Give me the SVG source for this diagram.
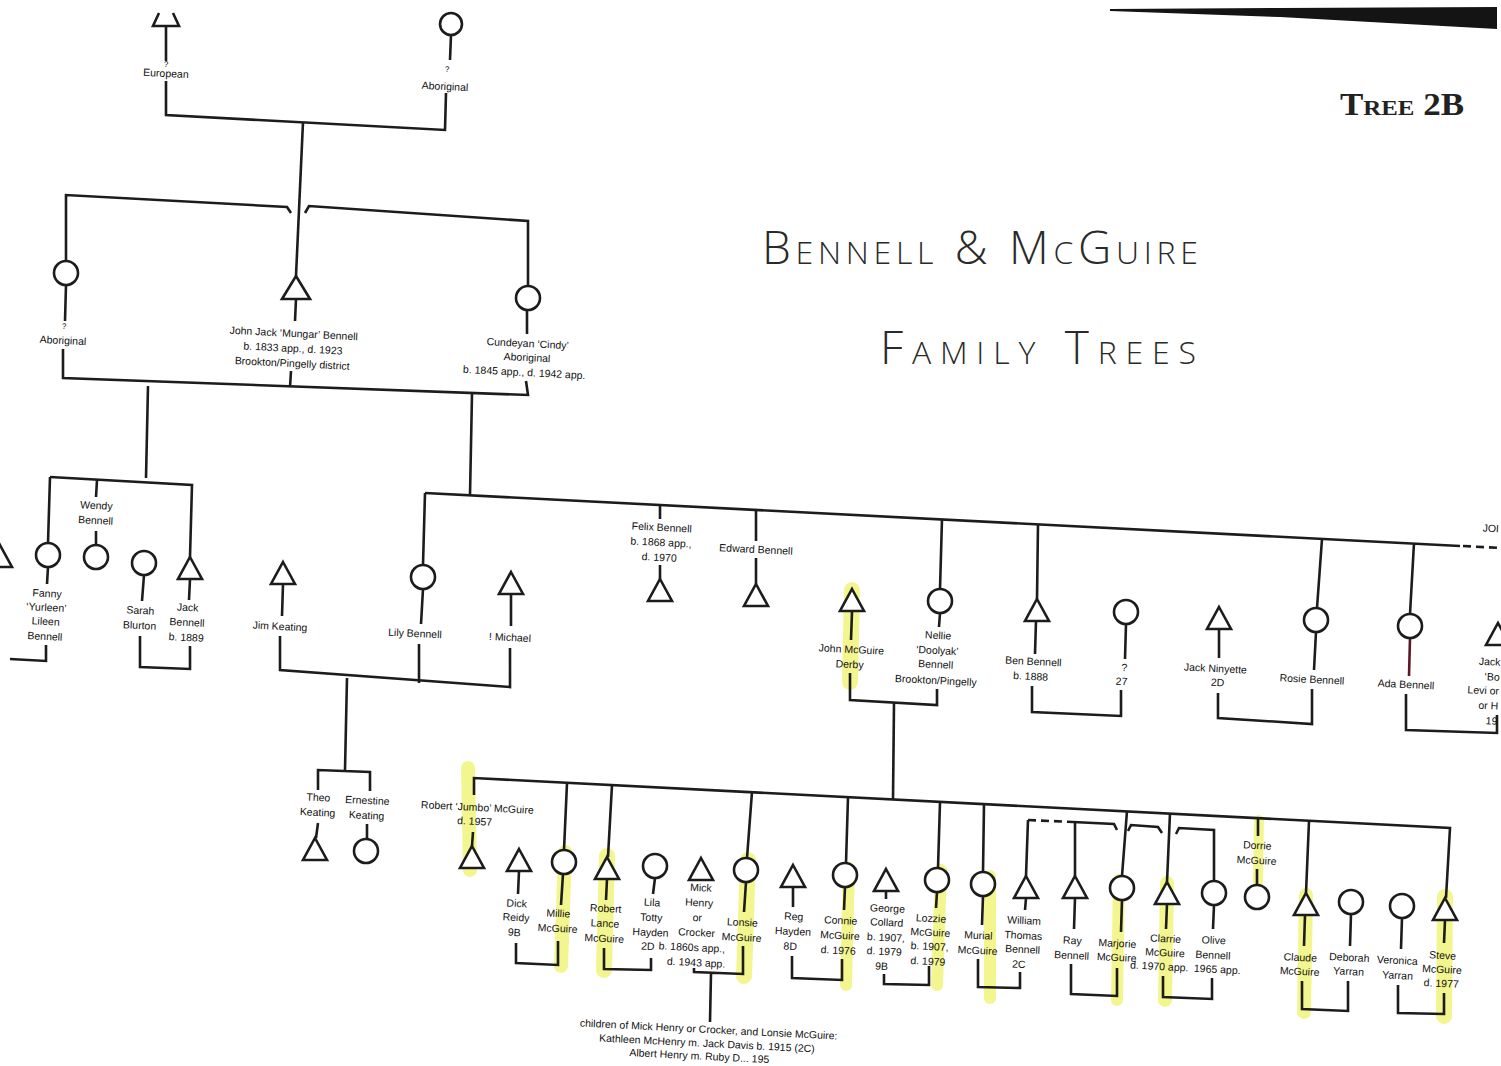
<svg xmlns="http://www.w3.org/2000/svg" xmlns:xlink="http://www.w3.org/1999/xlink" width="1501" height="1066" viewBox="0 0 1501 1066">
<style>
.ln{fill:none;stroke:#1c1c1c;stroke-width:2.6;stroke-linecap:butt;stroke-linejoin:miter}
.dash{stroke-dasharray:8 5}
.sym{fill:#fff;stroke:#1c1c1c;stroke-width:2.6}
.hl{fill:none;stroke:#eef25e;stroke-opacity:0.7;stroke-linecap:round}
.lb{font-family:"Liberation Sans Narrow","Liberation Sans",Arial,sans-serif;font-size:10.5px;fill:#111;text-anchor:middle;transform-box:fill-box;transform-origin:center;transform:rotate(2.9deg)}
.lbe{text-anchor:end}
.q{font-size:8px}
.hand{font-family:"Open Sans","DejaVu Sans",sans-serif;font-weight:300;font-variant:small-caps;font-size:46px;fill:#2a2a2a}
.title{font-family:"Liberation Serif",serif;font-weight:bold;font-variant:small-caps;font-size:31px;fill:#222}
</style>
<defs>
<path id="tri" class="sym" d="M0,-11 L12,11 L-12,11 Z"/>
<path id="triL" class="sym" d="M0,-12 L14,11 L-14,11 Z"/>
</defs>
<rect width="1501" height="1066" fill="#fff"/>

<!-- scanner edge -->
<polygon points="1110,9 1280,8 1497,7 1497,29 1280,17 1110,11" fill="#141414"/>

<!-- titles -->
<g id="title-tree">
<text class="title" x="1340" y="115" textLength="124" lengthAdjust="spacingAndGlyphs">Tree 2B</text>
</g>
<g id="title-hand">
<text class="hand" x="762" y="264" textLength="436" lengthAdjust="spacing">Bennell &amp; McGuire</text>
<text class="hand" x="880" y="364" textLength="316" lengthAdjust="spacing">Family  Trees</text>
</g>

<!-- highlighter marks -->
<g id="highlights">
<path class="hl" stroke-width="16" d="M852,590 L850,682"/>
<path class="hl" stroke-width="14" d="M468,768 L470,870"/>
<path class="hl" stroke-width="14" d="M565,852 L561,966"/>
<path class="hl" stroke-width="16" d="M607,856 L604,970"/>
<path class="hl" stroke-width="16" d="M748,860 L744,976"/>
<path class="hl" stroke-width="12" d="M849,868 L846,985"/>
<path class="hl" stroke-width="12" d="M941,870 L937,985"/>
<path class="hl" stroke-width="12" d="M990,876 L990,998"/>
<path class="hl" stroke-width="12" d="M1119,880 L1117,1000"/>
<path class="hl" stroke-width="14" d="M1167,883 L1165,1000"/>
<path class="hl" stroke-width="10" d="M1259,820 L1258,882"/>
<path class="hl" stroke-width="14" d="M1306,895 L1304,1012"/>
<path class="hl" stroke-width="16" d="M1445,897 L1444,1016"/>
</g>

<!-- connectors -->
<g id="connectors">
<path class="ln" d="M166,26 L166,61 M166,81 L166,115 L445,130 L446,93 M450,60 L451,35"/>
<path class="ln" d="M303,122 L296,276"/>
<path class="ln" d="M66,261 L66,195 L287,207 L291,213 M305,213 L309,206 L528,221 L528,286"/>
<path class="ln" d="M66,285 L65,321 M63,349 L63,378 L528,395 L526,381 M527,310 L527,334"/>
<path class="ln" d="M296,299 L295,321 M291,371 L290,387"/>
<path class="ln" d="M148,386 L146,478 M472,394 L470,495"/>
<path class="ln" d="M50,477 L192,485 L190,557 M190,579 L189,600"/>
<path class="ln" d="M50,477 L48,543 M48,567 L47,584 M46,645 L46,661 L10,659"/>
<path class="ln" d="M97,480 L96,497 M96,531 L96,545"/>
<path class="ln" d="M144,575 L142,601 M140,636 L140,667 L190,669 L190,646"/>
<path class="ln" d="M425,493 L1460,546"/>
<path class="ln dash" d="M1463,546 L1501,548"/>
<path class="ln" d="M425,493 L423,565 M423,589 L421,624 M419,644 L419,683"/>
<path class="ln" d="M283,584 L282,616 M280,636 L280,670 L510,687 L510,648 M511,626 L511,594"/>
<path class="ln" d="M347,678 L345,770 M318,790 L318,770 L370,772 L370,791 M318,823 L316,838 M367,824 L367,839"/>
<path class="ln" d="M660,505 L660,519 M660,565 L660,579"/>
<path class="ln" d="M756,510 L756,541 M756,558 L756,584"/>
<path class="ln" d="M942,519 L940,589 M940,613 L939,627 M937,689 L937,705 L850,700 L850,673 M851,640 L852,612"/>
<path class="ln" d="M894,703 L893,800"/>
<path class="ln" d="M1038,524 L1037,599 M1036,621 L1035,654 M1032,686 L1032,712 L1121,716 L1121,690 M1125,659 L1126,624"/>
<path class="ln" d="M1219,630 L1219,658 M1218,693 L1218,718 L1312,724 L1312,689 M1314,670 L1316,632 M1317,608 L1322,539"/>
<path class="ln" d="M1414,543 L1410,614 M1406,694 L1406,730 L1497,733 L1497,715"/>
<path d="M1410,638 L1409,676" fill="none" stroke="#5a1828" stroke-width="2.6"/>
<path class="ln" d="M474,795 L474,778 L1450,828 L1446,898"/>
<path class="ln" d="M473,832 L472,846"/>
<path class="ln" d="M519,871 L518,894 M516,943 L516,963 L558,965 L558,941"/>
<path class="ln" d="M567,783 L564,850 M563,874 L561,905"/>
<path class="ln" d="M612,785 L608,857 M607,879 L606,900 M604,948 L604,969 L651,970 L651,958 M653,894 L655,878"/>
<path class="ln" d="M752,792 L747,858 M746,882 L744,912 M743,946 L743,974 L694,972 L694,968 M711,973 L710,1022"/>
<path class="ln" d="M793,887 L793,907 M792,956 L792,978 L842,980 L842,959 M844,910 L845,887 M846,863 L848,797"/>
<path class="ln" d="M886,891 L886,899 M884,974 L884,984 L929,985 L929,966 M936,908 L937,892 M938,868 L940,802"/>
<path class="ln" d="M984,804 L983,872 M983,896 L982,925 M978,959 L978,987 L1020,988 L1020,972 M1025,910 L1026,898 M1026,876 L1028,820"/>
<path class="ln dash" d="M1028,820 L1073,822"/>
<path class="ln" d="M1073,822 L1114,824 L1117,830 M1128,831 L1131,825 L1158,827 L1162,833 M1176,834 L1179,828 L1214,830 L1214,881"/>
<path class="ln" d="M1075,822 L1075,876 M1075,898 L1074,929 M1071,964 L1071,994 L1117,996 L1117,968 M1121,932 L1122,900 M1122,876 L1127,811"/>
<path class="ln" d="M1170,813 L1167,882 M1167,904 L1166,929 M1163,976 L1163,997 L1212,999 L1212,978 M1213,929 L1214,905"/>
<path class="ln" d="M1258,818 L1258,836 M1257,869 L1257,885"/>
<path class="ln" d="M1309,821 L1306,893 M1305,915 L1304,946 M1302,981 L1302,1009 L1348,1011 L1348,981 M1350,946 L1351,914"/>
<path class="ln" d="M1445,920 L1444,943 M1444,993 L1444,1014 L1398,1013 L1398,985 M1401,949 L1402,918"/>
</g>

<!-- nodes -->
<g id="n-european"><polyline class="sym" points="159,13 153,26 179,26 173,13" style="fill:none"/><text class="lb q" x="166" y="67">?</text><text class="lb" x="166" y="77">European</text></g>
<g id="n-aboriginal-top"><circle class="sym" cx="451" cy="24" r="11"/><text class="lb q" x="447" y="72">?</text><text class="lb" x="445" y="90">Aboriginal</text></g>
<g id="n-aboriginal-wife"><circle class="sym" cx="66" cy="273" r="12"/><text class="lb q" x="64" y="329">?</text><text class="lb" x="63" y="344">Aboriginal</text></g>
<g id="n-john-jack"><use href="#triL" x="296" y="288"/><text class="lb" x="293" y="337"><tspan x="293">John Jack ‘Mungar’ Bennell</tspan><tspan x="293" dy="15">b. 1833 app., d. 1923</tspan><tspan x="293" dy="15">Brookton/Pingelly district</tspan></text></g>
<g id="n-cundeyan"><circle class="sym" cx="528" cy="298" r="12"/><text class="lb" x="527" y="347"><tspan x="527">Cundeyan ‘Cindy’</tspan><tspan x="527" dy="14">Aboriginal</tspan><tspan x="525" dy="15">b. 1845 app., d. 1942 app.</tspan></text></g>

<g id="n-partial-left"><use href="#tri" x="0" y="556"/></g>
<g id="n-fanny"><circle class="sym" cx="48" cy="555" r="12"/><text class="lb" x="46" y="597"><tspan x="46">Fanny</tspan><tspan x="46" dy="14">‘Yurleen’</tspan><tspan x="46" dy="14">Lileen</tspan><tspan x="46" dy="15">Bennell</tspan></text></g>
<g id="n-wendy"><circle class="sym" cx="96" cy="557" r="12"/><text class="lb" x="96" y="509"><tspan x="96">Wendy</tspan><tspan x="96" dy="15">Bennell</tspan></text></g>
<g id="n-sarah"><circle class="sym" cx="144" cy="563" r="12"/><text class="lb" x="140" y="614"><tspan x="140">Sarah</tspan><tspan x="140" dy="15">Blurton</tspan></text></g>
<g id="n-jack-bennell"><use href="#tri" x="190" y="568"/><text class="lb" x="187" y="611"><tspan x="187">Jack</tspan><tspan x="187" dy="15">Bennell</tspan><tspan x="187" dy="15">b. 1889</tspan></text></g>

<g id="n-jim-keating"><use href="#tri" x="283" y="573"/><text class="lb" x="280" y="630">Jim Keating</text></g>
<g id="n-lily"><circle class="sym" cx="423" cy="577" r="12"/><text class="lb" x="415" y="637">Lily Bennell</text></g>
<g id="n-michael"><use href="#tri" x="511" y="583"/><text class="lb" x="510" y="641">! Michael</text></g>
<g id="n-theo"><use href="#tri" x="315" y="849"/><text class="lb" x="318" y="801"><tspan x="318">Theo</tspan><tspan x="318" dy="15">Keating</tspan></text></g>
<g id="n-ernestine"><circle class="sym" cx="366" cy="851" r="12"/><text class="lb" x="367" y="804"><tspan x="367">Ernestine</tspan><tspan x="367" dy="15">Keating</tspan></text></g>
<g id="n-felix"><use href="#tri" x="660" y="590"/><text class="lb" x="661" y="531"><tspan x="661">Felix Bennell</tspan><tspan x="661" dy="15">b. 1868 app.,</tspan><tspan x="660" dy="15">d. 1970</tspan></text></g>
<g id="n-edward"><use href="#tri" x="756" y="595"/><text class="lb" x="756" y="553">Edward Bennell</text></g>
<g id="n-john-mcguire"><use href="#tri" x="852" y="600"/><text class="lb" x="851" y="653"><tspan x="851">John McGuire</tspan><tspan x="850" dy="15">Derby</tspan></text></g>
<g id="n-nellie"><circle class="sym" cx="940" cy="601" r="12"/><text class="lb" x="937" y="639"><tspan x="937">Nellie</tspan><tspan x="937" dy="15">‘Doolyak’</tspan><tspan x="936" dy="14">Bennell</tspan><tspan x="937" dy="16">Brookton/Pingelly</tspan></text></g>
<g id="n-ben"><use href="#tri" x="1037" y="610"/><text class="lb" x="1033" y="665"><tspan x="1033">Ben Bennell</tspan><tspan x="1031" dy="15">b. 1888</tspan></text></g>
<g id="n-unknown"><circle class="sym" cx="1126" cy="612" r="12"/><text class="lb" x="1124" y="671"><tspan x="1124">?</tspan><tspan x="1122" dy="14">27</tspan></text></g>
<g id="n-jack-ninyette"><use href="#tri" x="1219" y="618"/><text class="lb" x="1215" y="672"><tspan x="1215">Jack Ninyette</tspan><tspan x="1218" dy="14">2D</tspan></text></g>
<g id="n-rosie"><circle class="sym" cx="1316" cy="620" r="12"/><text class="lb" x="1312" y="683">Rosie Bennell</text></g>
<g id="n-ada"><circle class="sym" cx="1410" cy="626" r="12"/><text class="lb" x="1406" y="688">Ada Bennell</text></g>
<g id="n-jack-bon"><use href="#tri" x="1498" y="634"/><text class="lb lbe" x="1499" y="665"><tspan x="1499">Jack</tspan><tspan x="1499" dy="15">‘Bo</tspan><tspan x="1499" dy="14">Levi or</tspan><tspan x="1499" dy="15">or H</tspan><tspan x="1499" dy="15">19</tspan></text></g>
<g id="n-john-cut"><text class="lb lbe" x="1499" y="532">JOI</text></g>

<g id="n-robert-jumbo"><use href="#tri" x="472" y="857"/><text class="lb" x="477" y="811"><tspan x="477">Robert ‘Jumbo’ McGuire</tspan><tspan x="475" dy="14">d. 1957</tspan></text></g>
<g id="n-dick"><use href="#tri" x="519" y="860"/><text class="lb" x="516" y="907"><tspan x="516">Dick</tspan><tspan x="516" dy="14">Reidy</tspan><tspan x="515" dy="15">9B</tspan></text></g>
<g id="n-millie"><circle class="sym" cx="564" cy="862" r="12"/><text class="lb" x="558" y="917"><tspan x="558">Millie</tspan><tspan x="558" dy="15">McGuire</tspan></text></g>
<g id="n-robert-lance"><use href="#tri" x="607" y="868"/><text class="lb" x="605" y="912"><tspan x="605">Robert</tspan><tspan x="605" dy="15">Lance</tspan><tspan x="605" dy="15">McGuire</tspan></text></g>
<g id="n-lila"><circle class="sym" cx="655" cy="866" r="12"/><text class="lb" x="651" y="906"><tspan x="651">Lila</tspan><tspan x="651" dy="15">Totty</tspan><tspan x="651" dy="15">Hayden</tspan><tspan x="649" dy="14">2D</tspan></text></g>
<g id="n-mick"><use href="#tri" x="701" y="869"/><text class="lb" x="699" y="891"><tspan x="699">Mick</tspan><tspan x="698" dy="15">Henry</tspan><tspan x="697" dy="15">or</tspan><tspan x="697" dy="15">Crocker</tspan><tspan x="693" dy="15">b. 1860s app.,</tspan><tspan x="698" dy="15">d. 1943 app.</tspan></text></g>
<g id="n-lonsie"><circle class="sym" cx="746" cy="870" r="12"/><text class="lb" x="742" y="926"><tspan x="742">Lonsie</tspan><tspan x="742" dy="15">McGuire</tspan></text></g>
<g id="n-reg"><use href="#tri" x="793" y="876"/><text class="lb" x="793" y="920"><tspan x="793">Reg</tspan><tspan x="793" dy="15">Hayden</tspan><tspan x="791" dy="15">8D</tspan></text></g>
<g id="n-connie"><circle class="sym" cx="845" cy="875" r="12"/><text class="lb" x="840" y="924"><tspan x="840">Connie</tspan><tspan x="840" dy="15">McGuire</tspan><tspan x="839" dy="15">d. 1976</tspan></text></g>
<g id="n-george"><use href="#tri" x="886" y="880"/><text class="lb" x="886" y="912"><tspan x="886">George</tspan><tspan x="886" dy="14">Collard</tspan><tspan x="886" dy="15">b. 1907,</tspan><tspan x="885" dy="14">d. 1979</tspan><tspan x="883" dy="15">9B</tspan></text></g>
<g id="n-lozzie"><circle class="sym" cx="937" cy="880" r="12"/><text class="lb" x="930" y="922"><tspan x="930">Lozzie</tspan><tspan x="930" dy="14">McGuire</tspan><tspan x="930" dy="14">b. 1907,</tspan><tspan x="929" dy="15">d. 1979</tspan></text></g>
<g id="n-murial"><circle class="sym" cx="983" cy="884" r="12"/><text class="lb" x="978" y="939"><tspan x="978">Murial</tspan><tspan x="978" dy="15">McGuire</tspan></text></g>
<g id="n-william"><use href="#tri" x="1026" y="887"/><text class="lb" x="1023" y="924"><tspan x="1023">William</tspan><tspan x="1023" dy="15">Thomas</tspan><tspan x="1023" dy="14">Bennell</tspan><tspan x="1020" dy="15">2C</tspan></text></g>
<g id="n-ray"><use href="#tri" x="1075" y="887"/><text class="lb" x="1072" y="944"><tspan x="1072">Ray</tspan><tspan x="1072" dy="15">Bennell</tspan></text></g>
<g id="n-marjorie"><circle class="sym" cx="1122" cy="888" r="12"/><text class="lb" x="1117" y="947"><tspan x="1117">Marjorie</tspan><tspan x="1117" dy="14">McGuire</tspan></text></g>
<g id="n-clarrie"><use href="#tri" x="1167" y="893"/><text class="lb" x="1165" y="942"><tspan x="1165">Clarrie</tspan><tspan x="1165" dy="14">McGuire</tspan><tspan x="1160" dy="14">d. 1970 app.</tspan></text></g>
<g id="n-olive"><circle class="sym" cx="1214" cy="893" r="12"/><text class="lb" x="1213" y="944"><tspan x="1213">Olive</tspan><tspan x="1213" dy="15">Bennell</tspan><tspan x="1218" dy="14">1965 app.</tspan></text></g>
<g id="n-dorrie"><circle class="sym" cx="1257" cy="897" r="12"/><text class="lb" x="1257" y="849"><tspan x="1257">Dorrie</tspan><tspan x="1257" dy="15">McGuire</tspan></text></g>
<g id="n-claude"><use href="#tri" x="1306" y="904"/><text class="lb" x="1300" y="961"><tspan x="1300">Claude</tspan><tspan x="1300" dy="14">McGuire</tspan></text></g>
<g id="n-deborah"><circle class="sym" cx="1351" cy="902" r="12"/><text class="lb" x="1349" y="961"><tspan x="1349">Deborah</tspan><tspan x="1349" dy="14">Yarran</tspan></text></g>
<g id="n-veronica"><circle class="sym" cx="1402" cy="906" r="12"/><text class="lb" x="1397" y="964"><tspan x="1397">Veronica</tspan><tspan x="1398" dy="15">Yarran</tspan></text></g>
<g id="n-steve"><use href="#tri" x="1445" y="909"/><text class="lb" x="1442" y="959"><tspan x="1442">Steve</tspan><tspan x="1442" dy="14">McGuire</tspan><tspan x="1442" dy="14">d. 1977</tspan></text></g>

<g id="n-children-note"><text class="lb" x="707" y="1033"><tspan x="708">children of Mick Henry or Crocker, and Lonsie McGuire:</tspan><tspan x="707" dy="14">Kathleen McHenry m. Jack Davis b. 1915 (2C)</tspan><tspan x="700" dy="13">Albert Henry m. Ruby D... 195</tspan></text></g>
</svg>
